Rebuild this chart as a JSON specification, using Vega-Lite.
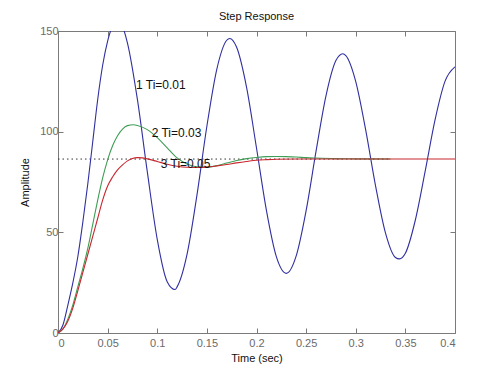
{
  "$schema": "https://vega.github.io/schema/vega-lite/v6.json",
  "autosize": "none",
  "padding": {"left": 58, "top": 31, "right": 36, "bottom": 39},
  "width": 397,
  "height": 302,
  "background": "white",
  "config": {
    "view": {"stroke": "#7a7a7a", "strokeWidth": 1},
    "font": "Liberation Sans",
    "axis": {"grid": false, "domain": false, "tickColor": "#7a7a7a", "tickSize": -5, "labelColor": "#6a6a6a", "labelFont": "Liberation Sans", "labelFontSize": 11, "titleFont": "Liberation Sans", "titleFontSize": 11, "titleFontWeight": "normal", "titleColor": "#111111"}
  },
  "title": {"text": "Step Response", "fontSize": 11, "fontWeight": "normal", "font": "Liberation Sans", "color": "#111111", "offset": 3},
  "datasets": {
    "resp": [
      {"t": 0, "y": 0, "s": "1"}, {"t": 0.005, "y": 4, "s": "1"}, {"t": 0.01, "y": 14, "s": "1"}, {"t": 0.015, "y": 25, "s": "1"}, {"t": 0.02, "y": 38, "s": "1"}, {"t": 0.025, "y": 55, "s": "1"}, {"t": 0.03, "y": 74, "s": "1"}, {"t": 0.035, "y": 95, "s": "1"}, {"t": 0.04, "y": 116, "s": "1"}, {"t": 0.045, "y": 133, "s": "1"}, {"t": 0.05, "y": 145, "s": "1"}, {"t": 0.055, "y": 152.5, "s": "1"}, {"t": 0.06, "y": 155, "s": "1"}, {"t": 0.065, "y": 152.2, "s": "1"}, {"t": 0.07, "y": 144, "s": "1"}, {"t": 0.08, "y": 116, "s": "1"}, {"t": 0.09, "y": 80, "s": "1"}, {"t": 0.1, "y": 46.5, "s": "1"}, {"t": 0.11, "y": 25.5, "s": "1"}, {"t": 0.118, "y": 21.6, "s": "1"}, {"t": 0.12, "y": 22.9, "s": "1"}, {"t": 0.13, "y": 39, "s": "1"}, {"t": 0.14, "y": 68.5, "s": "1"}, {"t": 0.15, "y": 102.7, "s": "1"}, {"t": 0.16, "y": 131, "s": "1"}, {"t": 0.17, "y": 145.4, "s": "1"}, {"t": 0.173, "y": 146.3, "s": "1"}, {"t": 0.18, "y": 141.9, "s": "1"}, {"t": 0.19, "y": 122, "s": "1"}, {"t": 0.2, "y": 91.9, "s": "1"}, {"t": 0.21, "y": 60.9, "s": "1"}, {"t": 0.22, "y": 37.9, "s": "1"}, {"t": 0.23, "y": 29.6, "s": "1"}, {"t": 0.24, "y": 38.3, "s": "1"}, {"t": 0.25, "y": 60.8, "s": "1"}, {"t": 0.26, "y": 90.3, "s": "1"}, {"t": 0.27, "y": 117.8, "s": "1"}, {"t": 0.28, "y": 135.3, "s": "1"}, {"t": 0.287, "y": 138.7, "s": "1"}, {"t": 0.29, "y": 137.8, "s": "1"}, {"t": 0.3, "y": 124.9, "s": "1"}, {"t": 0.31, "y": 100.9, "s": "1"}, {"t": 0.32, "y": 73, "s": "1"}, {"t": 0.33, "y": 49.6, "s": "1"}, {"t": 0.34, "y": 37.5, "s": "1"}, {"t": 0.344, "y": 36.8, "s": "1"}, {"t": 0.35, "y": 39.6, "s": "1"}, {"t": 0.36, "y": 56, "s": "1"}, {"t": 0.37, "y": 80.5, "s": "1"}, {"t": 0.38, "y": 106.1, "s": "1"}, {"t": 0.39, "y": 125.1, "s": "1"}, {"t": 0.4, "y": 132.2, "s": "1"},
      {"t": 0, "y": 0, "s": "2"}, {"t": 0.005, "y": 2, "s": "2"}, {"t": 0.01, "y": 7, "s": "2"}, {"t": 0.015, "y": 14, "s": "2"}, {"t": 0.02, "y": 23, "s": "2"}, {"t": 0.025, "y": 32, "s": "2"}, {"t": 0.03, "y": 42, "s": "2"}, {"t": 0.035, "y": 54, "s": "2"}, {"t": 0.04, "y": 66, "s": "2"}, {"t": 0.045, "y": 77, "s": "2"}, {"t": 0.05, "y": 86, "s": "2"}, {"t": 0.055, "y": 93, "s": "2"}, {"t": 0.06, "y": 98, "s": "2"}, {"t": 0.065, "y": 101.3, "s": "2"}, {"t": 0.07, "y": 103, "s": "2"}, {"t": 0.076, "y": 103.4, "s": "2"}, {"t": 0.08, "y": 103.1, "s": "2"}, {"t": 0.09, "y": 101, "s": "2"}, {"t": 0.1, "y": 97, "s": "2"}, {"t": 0.11, "y": 92, "s": "2"}, {"t": 0.12, "y": 87, "s": "2"}, {"t": 0.13, "y": 84, "s": "2"}, {"t": 0.14, "y": 82.6, "s": "2"}, {"t": 0.15, "y": 82.4, "s": "2"}, {"t": 0.16, "y": 83.1, "s": "2"}, {"t": 0.17, "y": 84.4, "s": "2"}, {"t": 0.18, "y": 85.7, "s": "2"}, {"t": 0.19, "y": 86.6, "s": "2"}, {"t": 0.2, "y": 87.2, "s": "2"}, {"t": 0.21, "y": 87.6, "s": "2"}, {"t": 0.22, "y": 87.7, "s": "2"}, {"t": 0.23, "y": 87.6, "s": "2"}, {"t": 0.24, "y": 87.4, "s": "2"}, {"t": 0.25, "y": 87.1, "s": "2"}, {"t": 0.26, "y": 86.9, "s": "2"}, {"t": 0.28, "y": 86.6, "s": "2"}, {"t": 0.3, "y": 86.5, "s": "2"}, {"t": 0.335, "y": 86.4, "s": "2"},
      {"t": 0, "y": 0, "s": "3"}, {"t": 0.005, "y": 2, "s": "3"}, {"t": 0.01, "y": 6, "s": "3"}, {"t": 0.015, "y": 12.5, "s": "3"}, {"t": 0.02, "y": 21, "s": "3"}, {"t": 0.025, "y": 30, "s": "3"}, {"t": 0.03, "y": 39, "s": "3"}, {"t": 0.035, "y": 48, "s": "3"}, {"t": 0.04, "y": 57, "s": "3"}, {"t": 0.045, "y": 66, "s": "3"}, {"t": 0.05, "y": 73, "s": "3"}, {"t": 0.055, "y": 77.5, "s": "3"}, {"t": 0.06, "y": 81, "s": "3"}, {"t": 0.065, "y": 83.5, "s": "3"}, {"t": 0.07, "y": 85.5, "s": "3"}, {"t": 0.075, "y": 86.7, "s": "3"}, {"t": 0.08, "y": 87.1, "s": "3"}, {"t": 0.085, "y": 87, "s": "3"}, {"t": 0.09, "y": 86.5, "s": "3"}, {"t": 0.1, "y": 85.2, "s": "3"}, {"t": 0.11, "y": 83.8, "s": "3"}, {"t": 0.12, "y": 82.8, "s": "3"}, {"t": 0.13, "y": 82.3, "s": "3"}, {"t": 0.14, "y": 82.2, "s": "3"}, {"t": 0.15, "y": 82.4, "s": "3"}, {"t": 0.16, "y": 83, "s": "3"}, {"t": 0.17, "y": 83.7, "s": "3"}, {"t": 0.18, "y": 84.5, "s": "3"}, {"t": 0.19, "y": 85.2, "s": "3"}, {"t": 0.2, "y": 85.8, "s": "3"}, {"t": 0.21, "y": 86.1, "s": "3"}, {"t": 0.22, "y": 86.3, "s": "3"}, {"t": 0.24, "y": 86.4, "s": "3"}, {"t": 0.4, "y": 86.4, "s": "3"}
    ],
    "steady": [{"t": 0, "y": 86.4}, {"t": 0.335, "y": 86.4}],
    "labels": [
      {"t": 0.0786, "y": 123.2, "label": "1 Ti=0.01"},
      {"t": 0.0944, "y": 99.5, "label": "2 Ti=0.03"},
      {"t": 0.1035, "y": 84, "label": "3 Ti=0.05"}
    ]
  },
  "layer": [
    {
      "data": {"name": "steady"},
      "mark": {"type": "line", "color": "#333333", "strokeWidth": 1, "strokeDash": [1.5, 3]},
      "encoding": {
        "x": {"field": "t", "type": "quantitative", "scale": {"domain": [0, 0.4], "nice": false, "zero": false},
              "axis": {"orient": "top", "labels": false, "title": null, "values": [0, 0.05, 0.1, 0.15, 0.2, 0.25, 0.3, 0.35, 0.4]}},
        "y": {"field": "y", "type": "quantitative", "scale": {"domain": [0, 150], "nice": false},
              "axis": {"orient": "right", "labels": false, "title": null, "values": [0, 50, 100, 150]}}
      }
    },
    {
      "data": {"name": "resp"},
      "mark": {"type": "line", "strokeWidth": 1.1, "clip": true, "interpolate": "monotone"},
      "encoding": {
        "x": {"field": "t", "type": "quantitative", "scale": {"domain": [0, 0.4], "nice": false, "zero": false},
              "axis": {"orient": "bottom", "title": "Time (sec)", "format": "~g", "values": [0, 0.05, 0.1, 0.15, 0.2, 0.25, 0.3, 0.35, 0.4], "labelPadding": 9, "titlePadding": 4}},
        "y": {"field": "y", "type": "quantitative", "scale": {"domain": [0, 150], "nice": false},
              "axis": {"orient": "left", "title": "Amplitude", "values": [0, 50, 100, 150], "labelPadding": 5, "titlePadding": 9}},
        "color": {"field": "s", "type": "nominal", "legend": null,
                  "scale": {"domain": ["1", "2", "3"], "range": ["#2f2fa0", "#3f9d55", "#c8262e"]}},
        "detail": {"field": "s"}
      }
    },
    {
      "data": {"name": "labels"},
      "mark": {"type": "text", "align": "left", "baseline": "middle", "fontSize": 12, "font": "Liberation Sans", "color": "#111111"},
      "encoding": {
        "x": {"field": "t", "type": "quantitative", "axis": null},
        "y": {"field": "y", "type": "quantitative", "axis": null},
        "text": {"field": "label"}
      }
    }
  ]
}
